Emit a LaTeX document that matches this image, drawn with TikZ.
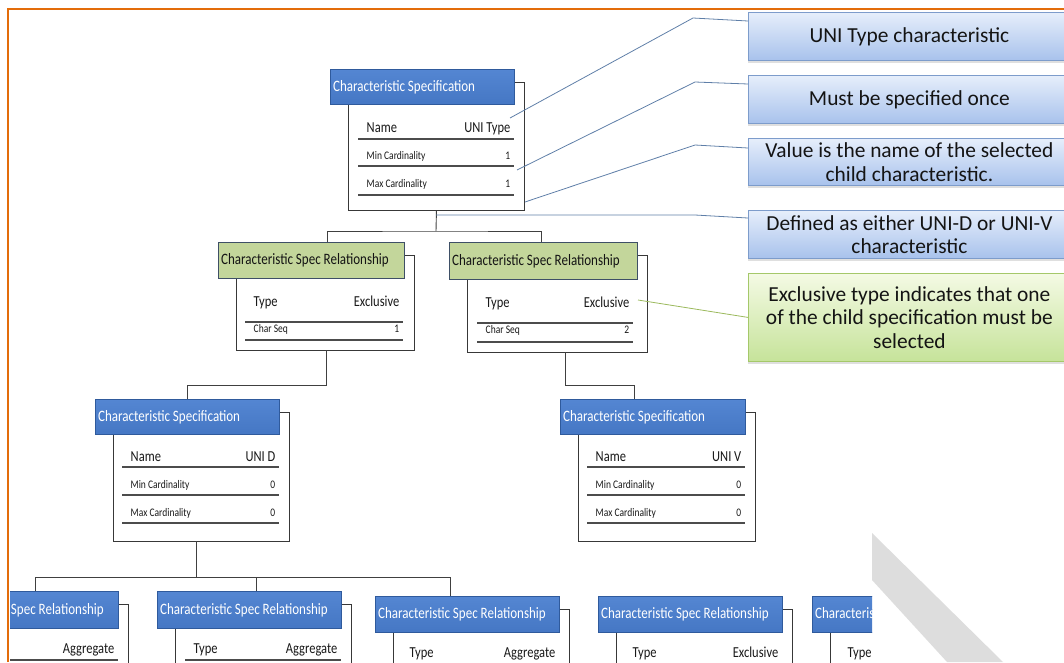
\documentclass[tikz,border=0pt]{standalone}
\usepackage{fontspec}
\usepackage{graphicx}
\setmainfont{Carlito}
\usetikzlibrary{shadows}

\definecolor{frameorange}{HTML}{E36C0A}
\definecolor{hdrblue}{HTML}{4577C4}
\definecolor{hdrbluetop}{HTML}{5486D2}
\definecolor{hdrblueedge}{HTML}{2F5A9C}
\definecolor{hdrgreen}{HTML}{C3D69B}
\definecolor{hdrgreenedge}{HTML}{3E4F66}
\definecolor{notebluetop}{HTML}{E6EEFB}
\definecolor{noteblueend}{HTML}{A8C2EC}
\definecolor{noteblueedge}{HTML}{7D9CCB}
\definecolor{notegreentop}{HTML}{F4FAE4}
\definecolor{notegreenend}{HTML}{C6E39A}
\definecolor{notegreenedge}{HTML}{A5C86A}
\definecolor{leaderblue}{HTML}{5F7FA8}
\definecolor{leadergreen}{HTML}{9BB95C}
\definecolor{stripe}{HTML}{DDDDDD}

% tall, narrow lettering used inside the entity boxes
\newcommand{\tall}[1]{\scalebox{1}[1.22]{#1}}

% one entity: header bar, white body behind it, title in the bar
\newcommand{\specbox}[8]{%
  \node[bodybox, anchor=north west, minimum width={#4-8}, minimum height={#6-#3-13}] (#1-body) at ({#2+18},{#3+13}) {};
  \node[#7, anchor=north west, minimum width={#4}, minimum height={#5}] (#1) at (#2,#3) {};
  \node[#7 text, anchor=west] (#1-title) at ([xshift=3pt]#1.west) {\tall{#8}};
}
% one attribute row: label, value and the rule under them
\newcommand{\fieldrow}[8]{%
  \node[#8, anchor=base west] (#1-l) at ({#2+8.5},#4) {\tall{#6}};
  \node[#8, anchor=base east] (#1-r) at ({#3-3.5},#4) {\tall{#7}};
  \draw[rowline] (#2,#5) -- (#3,#5);
}

\begin{document}
\begin{tikzpicture}[x=1pt,y=-1pt,
  bodybox/.style={draw=black!78, line width=0.9pt, fill=white, inner sep=0pt},
  bluehdr/.style={draw=hdrblueedge, line width=0.9pt, top color=hdrbluetop, bottom color=hdrblue, inner sep=0pt},
  bluehdr text/.style={text=white, font=\fontsize{13}{15}\selectfont, inner sep=0pt},
  greenhdr/.style={draw=hdrgreenedge, line width=0.9pt, fill=hdrgreen, inner sep=0pt},
  greenhdr text/.style={text=black!92, font=\fontsize{13}{15}\selectfont, inner sep=0pt},
  big/.style={font=\fontsize{12.5}{14}\selectfont, text=black!90, inner sep=0pt},
  small/.style={font=\fontsize{9.5}{11}\selectfont, text=black!90, inner sep=0pt},
  rowline/.style={draw=black!70, line width=1.1pt},
  tree/.style={draw=black!75, line width=0.9pt},
  leader/.style={draw=leaderblue, line width=0.8pt},
  leadergr/.style={draw=leadergreen, line width=0.8pt},
  note/.style={draw=noteblueedge, line width=0.8pt, top color=notebluetop, bottom color=noteblueend,
    anchor=north west, minimum width=322pt, align=center, inner sep=0pt,
    font=\fontsize{21.4}{23.5}\selectfont, text=black!92,
    drop shadow={opacity=0.25, shadow xshift=0pt, shadow yshift=-2.5pt}},
  notegreen/.style={note, draw=notegreenedge, top color=notegreentop, bottom color=notegreenend}
]
\useasboundingbox (0,0) rectangle (1064,662);
\clip (0,0) rectangle (1064,662);

% diagonal grey band, lower right
\fill[stripe] (872,533) -- (1003,662) -- (947,662) -- (872,580) -- cycle;

% ---------- entities ----------
\specbox{cs}{330}{69}{184}{35}{210}{bluehdr}{Characteristic Specification}
\fieldrow{cs1}{358}{514}{132}{139}{Name}{UNI Type}{big}
\fieldrow{cs2}{358}{514}{159}{166}{Min Cardinality}{1}{small}
\fieldrow{cs3}{358}{514}{187}{195}{Max Cardinality}{1}{small}

\specbox{relL}{218}{242}{186}{36}{350}{greenhdr}{Characteristic Spec Relationship}
\fieldrow{rl1}{245}{403}{306}{322}{Type}{Exclusive}{big}
\fieldrow{rl2}{245}{403}{332}{340}{Char Seq}{1}{small}

\specbox{relR}{449}{242}{188}{37}{352}{greenhdr}{Characteristic Spec Relationship}
\fieldrow{rr1}{477}{633}{307}{323}{Type}{Exclusive}{big}
\fieldrow{rr2}{477}{633}{333}{342}{Char Seq}{2}{small}

\specbox{csD}{95}{399}{184}{35}{541}{bluehdr}{Characteristic Specification}
\fieldrow{d1}{122}{279}{461}{467}{Name}{UNI D}{big}
\fieldrow{d2}{122}{279}{488}{495}{Min Cardinality}{0}{small}
\fieldrow{d3}{122}{279}{516}{523}{Max Cardinality}{0}{small}

\specbox{csV}{560}{399}{185}{35}{541}{bluehdr}{Characteristic Specification}
\fieldrow{v1}{587}{745}{461}{467}{Name}{UNI V}{big}
\fieldrow{v2}{587}{745}{488}{495}{Min Cardinality}{0}{small}
\fieldrow{v3}{587}{745}{516}{523}{Max Cardinality}{0}{small}

% lower row of relationships, cut off at the panel edges
\begin{scope}
  \clip (10,0) rectangle (872,662);
  \specbox{bA}{-67}{591}{185}{37}{720}{bluehdr}{Characteristic Spec Relationship}
  \fieldrow{a1}{-40}{118}{653}{660}{Type}{Aggregate}{big}
  \specbox{bB}{157}{591}{184}{37}{720}{bluehdr}{Characteristic Spec Relationship}
  \fieldrow{b1}{185}{341}{653}{660}{Type}{Aggregate}{big}
  \specbox{bC}{375}{596}{184}{36}{720}{bluehdr}{Characteristic Spec Relationship}
  \fieldrow{c1}{401}{559}{657}{664}{Type}{Aggregate}{big}
  \specbox{bD}{598}{596}{184}{36}{720}{bluehdr}{Characteristic Spec Relationship}
  \fieldrow{e1}{624}{782}{657}{664}{Type}{Exclusive}{big}
  \specbox{bE}{812}{596}{184}{36}{720}{bluehdr}{Characteristic Spec Relationship}
  \fieldrow{f1}{839}{996}{657}{664}{Type}{Exclusive}{big}
\end{scope}

% ---------- tree connectors ----------
\coordinate (j0) at (436,231);
\coordinate (inL) at (327,242);
\coordinate (inR) at (541,242);
\draw[tree] (cs-body.south) -- (j0);
\draw[tree] (inL) |- (j0) -| (inR);

\coordinate (outL) at (326,350);
\draw[tree] (outL) -- ++(0,35) -| (csD.north);
\coordinate (outR) at (565,352);
\draw[tree] (outR) -- ++(0,33) -| (634,399) coordinate (inV);

\coordinate (outD) at (196,541);
\coordinate (j2) at (196,577);
\draw[tree] (outD) -- (j2);
\draw[tree] (35,591) coordinate (inA) |- (j2) -| (450,596) coordinate (inC);
\draw[tree] (j2 -| 256,0) coordinate (jB) -- (256,591) coordinate (inB);

% ---------- notes ----------
\node[note, minimum height=48pt] (n1) at (748,12) {UNI Type characteristic};
\node[note, minimum height=48pt] (n2) at (748,75) {Must be specified once};
\node[note, minimum height=47pt] (n3) at (748,138) {Value is the name of the selected\\child characteristic.};
\node[note, minimum height=48pt] (n4) at (748,210) {Defined as either UNI-D or UNI-V\\characteristic};
\node[notegreen, minimum height=88pt] (n5) at (748,273) {Exclusive type indicates that one\\of the child specification must be\\selected};

% leaders from notes to the fields they describe
\coordinate (k1) at (693,18);
\coordinate (k2) at (695,82);
\coordinate (k3) at (695,145);
\coordinate (k4) at (695,215);
\draw[leader] (510,118) coordinate (p1) -- (k1) -- ([yshift=-9pt]n1.north west);
\draw[leader] (517,170) coordinate (p2) -- (k2) -- ([yshift=-9pt]n2.north west);
\draw[leader] (525,202) coordinate (p3) -- (k3) -- ([yshift=-10pt]n3.north west);
\draw[leader] (j0 |- 0,215) coordinate (p4) -- (k4) -- ([yshift=-8pt]n4.north west);
\draw[leadergr] (638,300) coordinate (p5) -- (n5.west);

% ---------- slide frame ----------
\draw[frameorange, line width=2.5pt] (8,662) -- (8,9) -- (1064,9);
\end{tikzpicture}
\end{document}
